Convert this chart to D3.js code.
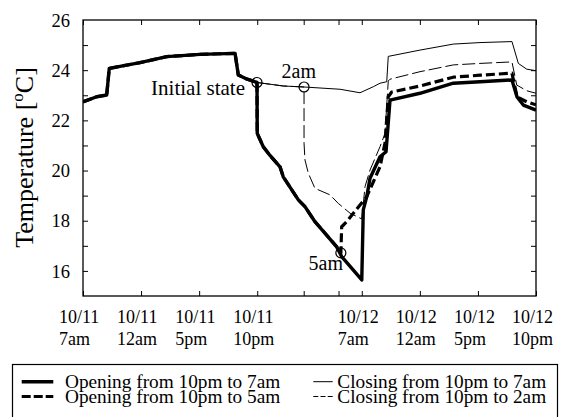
<!DOCTYPE html>
<html><head><meta charset="utf-8">
<script src="https://cdn.jsdelivr.net/npm/d3@7"></script>
<style>
html,body{margin:0;padding:0;background:#fff;}
svg text{font-family:"Liberation Serif","Times New Roman",serif;fill:#000;}
</style></head>
<body><svg id="c" width="561" height="417"></svg>
<script>
// hours since 10/11 7am
const xTickHours = [0, 5, 10, 15, 19, 22, 24, 29, 34, 39];
const xLabelHours = [0, 5, 10, 15, 24, 29, 34, 39];
const xLabelLine1 = ["10/11", "10/11", "10/11", "10/11", "10/12", "10/12", "10/12", "10/12"];
const xLabelLine2 = ["7am", "12am", "5pm", "10pm", "7am", "12am", "5pm", "10pm"];
const yTickValues = [16, 17, 18, 19, 20, 21, 22, 23, 24, 25];
const yLabelValues = [16, 18, 20, 22, 24, 26];

// common history before 10pm
const baseHours = [0, 1.18, 2.04, 2.26, 4.91, 7.21, 10.07, 13.09, 13.37, 14.09, 14.98];
const baseTemps = [22.74, 22.94, 23.01, 24.07, 24.30, 24.54, 24.63, 24.67, 23.81, 23.65, 23.51];

// Opening from 10pm to 7am
const open7Hours = [15.0, 15.52, 16.1, 16.96, 17.24, 18.54, 19.11, 19.97, 20.84, 21.84, 22.27, 24.0, 24.13, 24.43, 24.71, 25.57, 26.09, 26.43, 29.01, 31.88, 34.18, 36.93, 37.37, 37.91, 39];
const open7Temps = [21.48, 20.95, 20.6, 20.15, 19.75, 18.83, 18.56, 17.96, 17.50, 16.96, 16.57, 15.64, 18.43, 18.96, 19.69, 20.55, 20.75, 22.81, 23.08, 23.48, 23.54, 23.61, 22.93, 22.61, 22.41];

// Opening from 10pm to 5am
const open5Hours = [15.0, 15.52, 16.1, 16.96, 17.24, 18.54, 19.11, 19.97, 20.84, 21.84, 22.2, 22.27, 22.7, 23.85, 24.43, 25.57, 26.0, 26.28, 26.58, 29.01, 31.88, 34.18, 36.93, 37.37, 38.2, 39];
const open5Temps = [21.48, 20.95, 20.6, 20.15, 19.75, 18.83, 18.56, 17.96, 17.50, 16.96, 16.72, 17.76, 17.96, 18.63, 18.96, 20.15, 21.09, 22.94, 23.13, 23.37, 23.72, 23.80, 23.88, 22.94, 22.74, 22.62];

// Closing from 10pm to 7am
const close7Hours = [17.24, 19.03, 22.13, 23.85, 24.99, 25.57, 26.15, 26.28, 29.01, 31.88, 34.18, 36.93, 37.48, 38.2, 39];
const close7Temps = [23.37, 23.33, 23.24, 23.10, 23.34, 23.48, 23.54, 24.55, 24.80, 25.04, 25.10, 25.14, 24.27, 24.04, 23.98];

// Closing from 10pm to 2am
const close2Hours = [17.24, 19.03, 19.03, 19.11, 19.4, 19.97, 21.27, 21.98, 22.99, 24.0, 24.28, 24.71, 25.57, 26.0, 26.28, 26.43, 29.01, 31.88, 34.18, 36.93, 37.34, 38.2, 39];
const close2Temps = [23.37, 23.33, 21.09, 20.42, 19.89, 19.29, 19.03, 18.69, 18.30, 18.07, 19.36, 20.02, 20.95, 21.48, 23.57, 23.64, 23.94, 24.21, 24.27, 24.33, 23.41, 23.18, 23.08];

const markerHours = [14.98, 19.03, 22.2];
const markerTemps = [23.51, 23.33, 16.72];
const legendLabels = ["Opening from 10pm to 7am", "Closing from 10pm to 7am", "Opening from 10pm to 5am", "Closing from 10pm to 2am"];

const svg = d3.select("#c");
const L = 83, R = 536, T = 20, B = 296;
const x = d3.scaleLinear().domain([0, 39]).range([L, R]);
const y = d3.scaleLinear().domain([15, 26]).range([B, T]);

const zip = (h, t) => h.map((v, i) => [v, t[i]]);
const base = zip(baseHours, baseTemps);
const series = [
  {pts: base.concat(zip(close7Hours, close7Temps)), w: 1, dash: null},
  {pts: base.concat(zip(close2Hours, close2Temps)), w: 1, dash: "13,4"},
  {pts: base.concat(zip(open5Hours, open5Temps)), w: 3.2, dash: "9,4"},
  {pts: base.concat(zip(open7Hours, open7Temps)), w: 3.4, dash: null}
];
const line = d3.line().x(d => x(d[0])).y(d => y(d[1]));

const g = svg.append("g");
g.append("defs").append("clipPath").attr("id", "clip").append("rect")
  .attr("x", L).attr("y", T).attr("width", R - L).attr("height", B - T);
const plot = g.append("g").attr("clip-path", "url(#clip)");
series.forEach(s => {
  plot.append("path").attr("d", line(s.pts)).attr("fill", "none")
    .attr("stroke", "#000").attr("stroke-width", s.w)
    .attr("stroke-linejoin", "round")
    .attr("stroke-dasharray", s.dash);
});

// axes (inward ticks)
const axB = d3.axisBottom(x).tickValues(xTickHours).tickSize(-5).tickFormat("");
const axT = d3.axisTop(x).tickValues(xTickHours).tickSize(-5).tickFormat("");
const axL = d3.axisLeft(y).tickValues(yTickValues).tickSize(-5).tickFormat("");
const axR = d3.axisRight(y).tickValues(yTickValues).tickSize(-5).tickFormat("");
[[axB, `translate(0,${B})`], [axT, `translate(0,${T})`], [axL, `translate(${L},0)`], [axR, `translate(${R},0)`]].forEach(([a, tr]) => {
  const ag = g.append("g").attr("transform", tr).call(a);
  ag.select(".domain").remove();
  ag.selectAll("line").attr("stroke", "#000").attr("stroke-width", 1);
});
g.append("rect").attr("x", L).attr("y", T).attr("width", R - L).attr("height", B - T)
  .attr("fill", "none").attr("stroke", "#000").attr("stroke-width", 1.3);

// y tick labels
yLabelValues.forEach(v => {
  g.append("text").attr("x", 70).attr("y", y(v)).attr("dy", "0.36em")
    .attr("text-anchor", "end").attr("font-size", 18.5).text(v);
});
// x tick labels
xLabelHours.forEach((h, i) => {
  const tg = g.append("g").attr("transform", `translate(${x(h) - 24},0)`);
  tg.append("text").attr("x", 0).attr("y", 323).attr("font-size", 18).text(xLabelLine1[i]);
  tg.append("text").attr("x", 0).attr("y", 345).attr("font-size", 18).text(xLabelLine2[i]);
});
// y axis title
const yt = g.append("text").attr("transform", "translate(33,157.5) rotate(-90)")
  .attr("text-anchor", "middle").attr("font-size", 26);
yt.append("tspan").text("Temperature [");
yt.append("tspan").attr("font-size", 17).attr("dy", -10).text("o");
yt.append("tspan").attr("dy", 10).text("C]");

// markers
markerHours.forEach((h, i) => {
  g.append("circle").attr("cx", x(h)).attr("cy", y(markerTemps[i])).attr("r", 5)
    .attr("fill", "none").attr("stroke", "#000").attr("stroke-width", 1.2);
});
g.append("text").attr("x", 245).attr("y", 95).attr("text-anchor", "end").attr("font-size", 21).text("Initial state");
g.append("text").attr("x", 281.5).attr("y", 78).attr("font-size", 20).text("2am");
g.append("text").attr("x", 308.5).attr("y", 269.5).attr("font-size", 20).text("5am");

// legend
const lg = svg.append("g");
lg.append("rect").attr("x", 12.5).attr("y", 364.5).attr("width", 545).attr("height", 60)
  .attr("fill", "#fff").attr("stroke", "#000").attr("stroke-width", 1.2);
const legendItems = [
  {x1: 21.7, x2: 53.3, tx: 65, ly: 381.7, ty: 387.5, w: 3.4, dash: null},
  {x1: 313.3, x2: 332.7, tx: 337.3, ly: 381.7, ty: 387.5, w: 1, dash: null},
  {x1: 21.7, x2: 53.3, tx: 65, ly: 396.5, ty: 402.7, w: 3.2, dash: "9,3"},
  {x1: 313.3, x2: 332.7, tx: 337.3, ly: 396.5, ty: 402.7, w: 1, dash: "5,2.2"}
];
legendItems.forEach((it, i) => {
  lg.append("line").attr("x1", it.x1).attr("x2", it.x2).attr("y1", it.ly).attr("y2", it.ly)
    .attr("stroke", "#000").attr("stroke-width", it.w).attr("stroke-dasharray", it.dash);
  lg.append("text").attr("x", it.tx).attr("y", it.ty).attr("font-size", 19.3).text(legendLabels[i]);
});
</script></body></html>
